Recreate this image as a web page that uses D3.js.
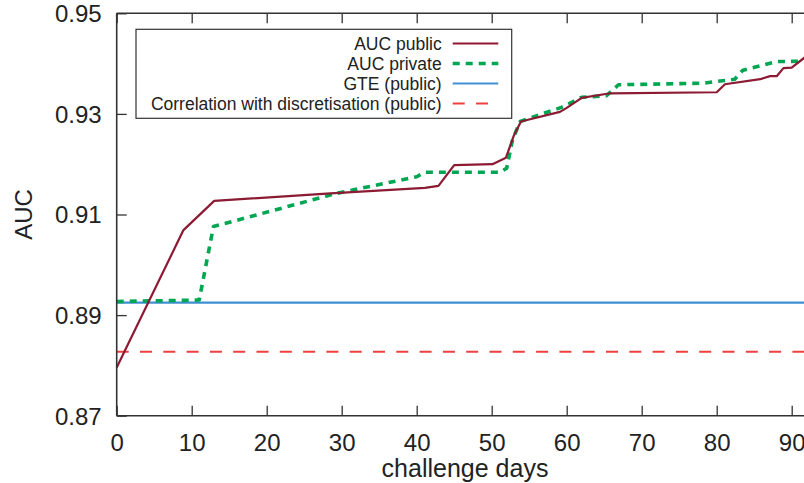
<!DOCTYPE html>
<html><head><meta charset="utf-8">
<script src="https://cdn.jsdelivr.net/npm/d3@7"></script>
<style>body{margin:0;background:#fff}svg{display:block;font-family:"Liberation Sans",Arial,sans-serif}</style>
</head><body><svg id="c" width="804" height="483"></svg>
<script>
const xTicks = [0,10,20,30,40,50,60,70,80,90];
const yTicks = [0.87,0.89,0.91,0.93,0.95];
const pubDays = [0,8.9,13,28.5,41.1,42.9,45,50.1,51.9,52.9,53.9,59.1,60,62,65.8,80,81.1,85.8,87.1,88,88.9,90,91.8];
const pubAUC  = [0.8796,0.9069,0.9127,0.9142,0.9153,0.9157,0.9198,0.9200,0.9213,0.9255,0.9285,0.9304,0.9312,0.9332,0.9341,0.9343,0.9359,0.9369,0.9375,0.9375,0.9391,0.9392,0.9413];
const privDays = [0,11,12.9,29.3,40,41.1,51.1,52,52.8,53.8,59.3,62,65.3,66.9,78.2,82.4,83.5,88,91.8];
const privAUC  = [0.8927,0.8930,0.9076,0.9142,0.9175,0.9184,0.9184,0.9192,0.9250,0.9285,0.9313,0.9333,0.9336,0.9358,0.9361,0.9369,0.9387,0.9404,0.9405];
const gteValue = 0.8925;
const corrValue = 0.8827;
const legendLabels = ["AUC public","AUC private","GTE (public)","Correlation with discretisation (public)"];

const svg = d3.select("#c");
const x = d3.scaleLinear().domain([0,100]).range([116.7,866.7]);
const y = d3.scaleLinear().domain([0.87,0.95]).range([415.7,13.3]);
const axisCol = "#333";

// series
const line = d3.line().x(d=>x(d[0])).y(d=>y(d[1]));
const styles = [
  {col:"#8b1a32", w:2.2, dash:null},
  {col:"#00a651", w:3.6, dash:"7,6"},
  {col:"#3f8fd2", w:2.2, dash:null},
  {col:"#ef4040", w:2, dash:"12,11.3"}
];
const gteData = [[0,gteValue],[100,gteValue]];
const corrData = [[0,corrValue],[100,corrValue]];
const pubData = pubDays.map((d,i)=>[d,pubAUC[i]]);
const privData = privDays.map((d,i)=>[d,privAUC[i]]);
const seriesData = [pubData, privData, gteData, corrData];
const drawOrder = [3,2,1,0];
drawOrder.forEach(i=>{
  svg.append("path").datum(seriesData[i]).attr("d",line)
    .attr("fill","none").attr("stroke",styles[i].col).attr("stroke-width",styles[i].w)
    .attr("stroke-dasharray",styles[i].dash).attr("stroke-linejoin","round");
});

// axes
const xb = svg.append("g").attr("transform","translate(0,415.7)")
  .call(d3.axisBottom(x).tickValues(xTicks).tickSize(-10).tickPadding(18).tickFormat(d3.format("d")));
const xt = svg.append("g").attr("transform","translate(0,13.3)")
  .call(d3.axisTop(x).tickValues(xTicks).tickSize(-10).tickFormat(""));
const yl = svg.append("g").attr("transform","translate(116.7,0)")
  .call(d3.axisLeft(y).tickValues(yTicks).tickSize(-10).tickPadding(15).tickFormat(d3.format(".2f")));
[xb,xt,yl].forEach(g=>{
  g.select(".domain").attr("stroke",axisCol).attr("stroke-width",1.6);
  g.selectAll(".tick line").attr("stroke",axisCol).attr("stroke-width",1.3);
  g.selectAll(".tick text").attr("fill","#222").style("font-size","24px").style("font-family","Liberation Sans, Arial, sans-serif");
});
xb.select(".domain").attr("d","M116.7,0H804");
xt.select(".domain").attr("d","M116.7,0H804");
yl.select(".domain").attr("d","M0,13.3V415.7");
yl.selectAll(".tick text").attr("dy","0.35em");
xb.selectAll(".tick text").attr("dy","0.71em");

// labels
svg.append("text").attr("x",465).attr("y",476.5).attr("text-anchor","middle")
  .attr("fill","#222").style("font-size","25px").text("challenge days");
svg.append("text").attr("transform","translate(32,214.5) rotate(-90)").attr("text-anchor","middle")
  .attr("fill","#222").style("font-size","24px").text("AUC");

// legend
const lg = svg.append("g");
lg.append("rect").attr("x",136).attr("y",29.3).attr("width",375.7).attr("height",89)
  .attr("fill","#fff").attr("stroke",axisCol).attr("stroke-width",1.2);
legendLabels.forEach((t,i)=>{
  const cy = 43.5 + i*20;
  lg.append("text").attr("x",441.7).attr("y",cy).attr("dy","0.35em").attr("text-anchor","end")
    .attr("fill","#222").style("font-size","17.5px").text(t);
  lg.append("line").attr("x1",452.7).attr("x2",498.3).attr("y1",cy).attr("y2",cy)
    .attr("stroke",styles[i].col).attr("stroke-width",styles[i].w).attr("stroke-dasharray",styles[i].dash);
});
</script></body></html>
